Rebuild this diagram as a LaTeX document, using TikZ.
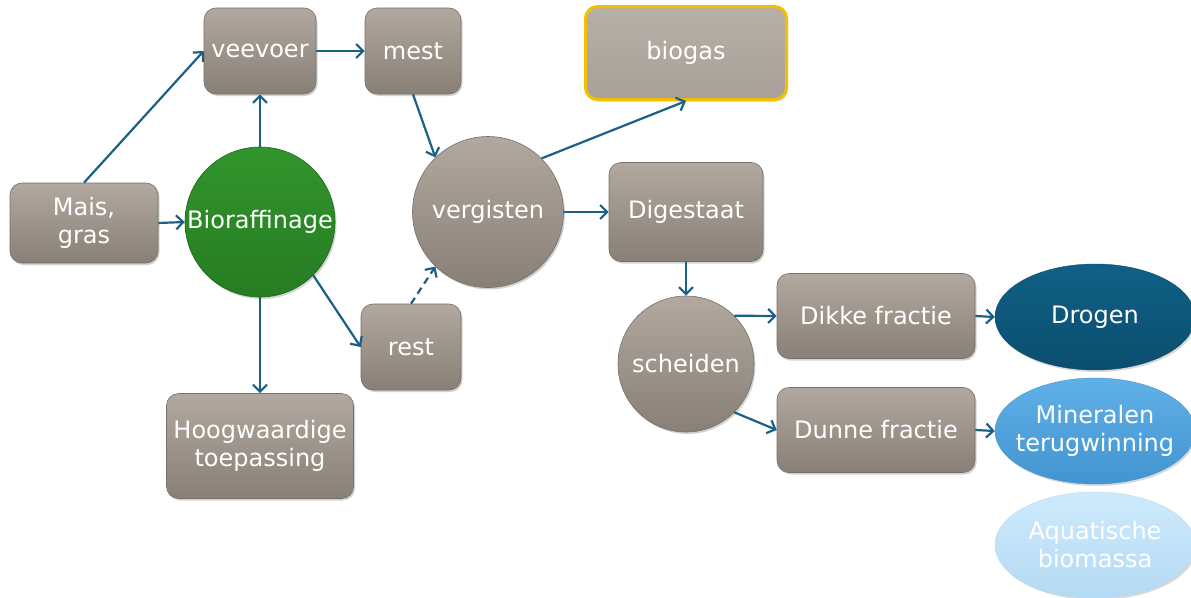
\documentclass[tikz,border=0pt]{standalone}
\usepackage{fontspec}
\setmainfont{DejaVu Sans}
\usetikzlibrary{shapes.geometric,arrows.meta,shadows}

\definecolor{boxtop}{RGB}{177,169,160}
\definecolor{boxbot}{RGB}{136,127,118}
\definecolor{boxedge}{RGB}{120,112,104}
\definecolor{greentop}{RGB}{50,148,44}
\definecolor{greenbot}{RGB}{38,124,34}
\definecolor{greenedge}{RGB}{30,100,28}
\definecolor{gold}{RGB}{242,192,0}
\definecolor{flow}{RGB}{28,96,134}
\definecolor{darkbluetop}{RGB}{16,96,134}
\definecolor{darkbluebot}{RGB}{10,78,110}
\definecolor{midbluetop}{RGB}{96,176,232}
\definecolor{midbluebot}{RGB}{66,148,208}
\definecolor{palebluetop}{RGB}{206,234,252}
\definecolor{palebluebot}{RGB}{180,218,244}

\tikzset{
  basefont/.style={font=\fontsize{24}{28}\selectfont, text=white, align=center},
  stepbox/.style={basefont, rectangle, rounded corners=12pt,
    top color=boxtop, bottom color=boxbot, draw=boxedge, line width=0.6pt,
    inner sep=0pt,
    drop shadow={opacity=0.35, shadow xshift=1.5pt, shadow yshift=-2pt}},
  graycircle/.style={basefont, circle, inner sep=0pt,
    top color=boxtop, bottom color=boxbot, draw=boxedge, line width=0.6pt,
    drop shadow={opacity=0.35, shadow xshift=1.5pt, shadow yshift=-2pt}},
  greencircle/.style={basefont, circle, inner sep=0pt,
    top color=greentop, bottom color=greenbot, draw=greenedge, line width=0.6pt,
    drop shadow={opacity=0.35, shadow xshift=1.5pt, shadow yshift=-2pt}},
  goalbox/.style={basefont, rectangle, rounded corners=12pt,
    top color=boxtop!92!white, bottom color=boxtop!95!black,
    draw=gold, line width=3pt, inner sep=0pt,
    drop shadow={opacity=0.3, shadow xshift=1.5pt, shadow yshift=-2pt}},
  endoval/.style={basefont, ellipse, inner xsep=-22pt, inner ysep=-8pt,
    minimum width=200pt, minimum height=106pt,
    drop shadow={opacity=0.3, shadow xshift=1.5pt, shadow yshift=-2pt}},
  flowarrow/.style={draw=flow, line width=2.2pt,
    -{Straight Barb[length=7pt,width=14pt,line width=2.2pt]}},
}

\begin{document}
\begin{tikzpicture}[x=1pt,y=-1pt]
  \clip (0,0) rectangle (1191,597);
  \fill[white] (0,0) rectangle (1191,597);

  % input and first processing steps
  \node[stepbox, minimum width=148pt, minimum height=80pt] (mais) at (84,223) {Mais,\\gras};
  \node[greencircle, minimum size=150pt] (bio) at (260,222) {Bioraffinage};
  \node[stepbox, minimum width=112pt, minimum height=86pt] (veevoer) at (260,51) {veevoer};
  \node[stepbox, minimum width=96pt, minimum height=86pt] (mest) at (413,51) {mest};
  \node[stepbox, minimum width=100pt, minimum height=86pt] (rest) at (411,347) {rest};
  \node[stepbox, minimum width=187pt, minimum height=105pt] (hoog) at (260,446) {Hoogwaardige\\toepassing};

  % digestion
  \node[graycircle, minimum size=151pt] (verg) at (488,212) {vergisten};
  \node[goalbox, minimum width=201pt, minimum height=93pt] (biogas) at (686,53) {biogas};
  \node[stepbox, minimum width=154pt, minimum height=99pt] (dig) at (686,212) {Digestaat};

  % separation and end products
  \node[graycircle, minimum size=136pt] (sch) at (686,364) {scheiden};
  \node[stepbox, minimum width=198pt, minimum height=85pt] (dikke) at (876,316) {Dikke fractie};
  \node[stepbox, minimum width=198pt, minimum height=85pt] (dunne) at (876,430) {Dunne fractie};
  \node[endoval, top color=darkbluetop, bottom color=darkbluebot, draw=darkbluebot] (drogen) at (1095,317) {Drogen};
  \node[endoval, top color=midbluetop, bottom color=midbluebot, draw=midbluebot] (mineralen) at (1095,431) {Mineralen\\terugwinning};
  \node[endoval, top color=palebluetop, bottom color=palebluebot, draw=palebluebot] (aqua) at (1095,545) {Aquatische\\biomassa};

  % connectors
  \draw[flowarrow] (mais.north) -- (veevoer.west);
  \draw[flowarrow] (mais.east) -- (bio.west);
  \draw[flowarrow] (bio.north) -- (veevoer.south);
  \draw[flowarrow] (veevoer.east) -- (mest.west);
  \draw[flowarrow] (mest.south) -- (verg.134);
  \draw[flowarrow] (bio.-45) -- (rest.west);
  \draw[flowarrow, dash pattern=on 7pt off 5pt] (rest.north) -- (verg.226);
  \draw[flowarrow] (bio.south) -- (hoog.north);
  \draw[flowarrow] (verg.45) -- (biogas.south);
  \draw[flowarrow] (verg.east) -- (dig.west);
  \draw[flowarrow] (dig.south) -- (sch.north);
  \draw[flowarrow] (sch.45) -- (dikke.west);
  \draw[flowarrow] (sch.-45) -- (dunne.west);
  \draw[flowarrow] (dikke.east) -- (drogen.west);
  \draw[flowarrow] (dunne.east) -- (mineralen.west);
\end{tikzpicture}
\end{document}
